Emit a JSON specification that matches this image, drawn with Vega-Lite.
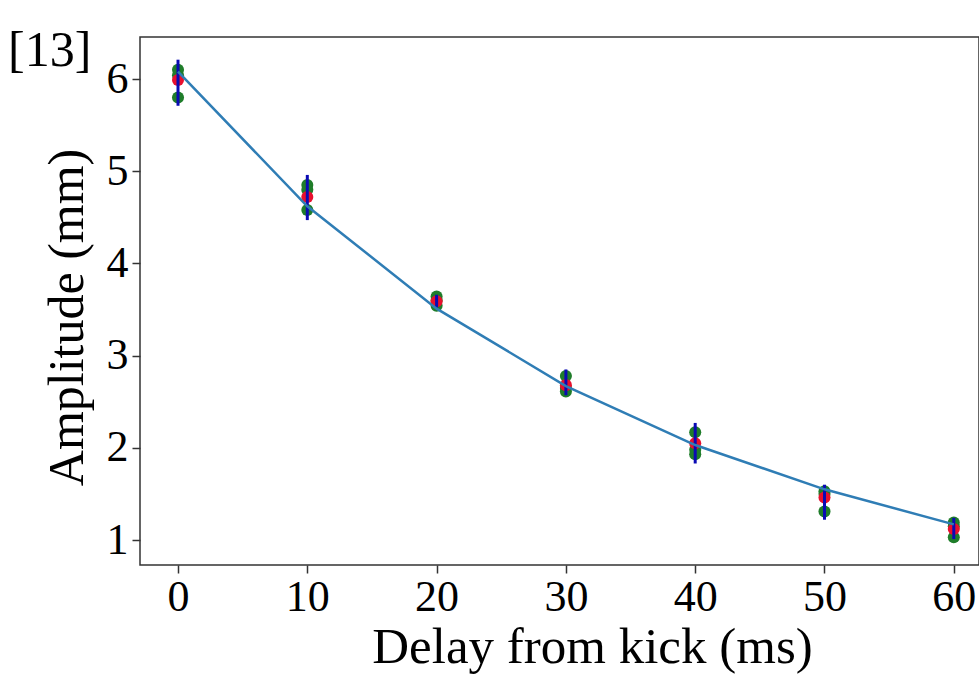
{
  "$schema": "https://vega.github.io/schema/vega-lite/v6.json",
  "autosize": "none",
  "padding": {"left": 140, "top": 37, "right": 0, "bottom": 111},
  "width": 839,
  "height": 528,
  "background": "white",
  "config": {
    "view": {"stroke": "#333333", "strokeWidth": 1.5},
    "font": "Liberation Serif"
  },
  "title": {
    "text": "[13]",
    "anchor": "start",
    "frame": "group",
    "orient": "top",
    "baseline": "top",
    "offset": 0,
    "dx": -132,
    "dy": 39,
    "font": "Liberation Serif",
    "fontSize": 50,
    "fontWeight": "normal",
    "color": "black"
  },
  "datasets": {
    "runs": [
      {"t": 0, "amp": 6.10}, {"t": 0, "amp": 6.04}, {"t": 0, "amp": 5.80},
      {"t": 10, "amp": 4.85}, {"t": 10, "amp": 4.80}, {"t": 10, "amp": 4.58},
      {"t": 20, "amp": 3.64}, {"t": 20, "amp": 3.60}, {"t": 20, "amp": 3.54},
      {"t": 30, "amp": 2.78}, {"t": 30, "amp": 2.65}, {"t": 30, "amp": 2.61},
      {"t": 40, "amp": 2.17}, {"t": 40, "amp": 1.98}, {"t": 40, "amp": 1.93},
      {"t": 50, "amp": 1.53}, {"t": 50, "amp": 1.50}, {"t": 50, "amp": 1.31},
      {"t": 60, "amp": 1.19}, {"t": 60, "amp": 1.15}, {"t": 60, "amp": 1.03}
    ],
    "means": [
      {"t": 0, "mean": 5.99, "lo": 5.71, "hi": 6.21},
      {"t": 10, "mean": 4.72, "lo": 4.47, "hi": 4.96},
      {"t": 20, "mean": 3.59, "lo": 3.52, "hi": 3.66},
      {"t": 30, "mean": 2.68, "lo": 2.57, "hi": 2.85},
      {"t": 40, "mean": 2.05, "lo": 1.83, "hi": 2.27},
      {"t": 50, "mean": 1.46, "lo": 1.22, "hi": 1.60},
      {"t": 60, "mean": 1.12, "lo": 1.01, "hi": 1.24}
    ],
    "fit": [
      {"t": 0, "fit": 6.08},
      {"t": 10, "fit": 4.62},
      {"t": 20, "fit": 3.51},
      {"t": 30, "fit": 2.67},
      {"t": 40, "fit": 2.03},
      {"t": 50, "fit": 1.55},
      {"t": 60, "fit": 1.17}
    ]
  },
  "encoding": {
    "x": {
      "field": "t",
      "type": "quantitative",
      "scale": {"domain": [-2.94, 61.95], "nice": false, "zero": false},
      "axis": {
        "title": "Delay from kick (ms)",
        "values": [0, 10, 20, 30, 40, 50, 60],
        "grid": false,
        "domain": false,
        "tickColor": "#333333",
        "tickSize": 8,
        "tickWidth": 1.5,
        "labelFont": "Liberation Serif",
        "labelFontSize": 44,
        "labelColor": "black",
        "labelPadding": 2,
        "labelFlush": false,
        "titleFont": "Liberation Serif",
        "titleFontSize": 51,
        "titleFontWeight": "normal",
        "titleColor": "black",
        "titlePadding": 3,
        "titleX": 452
      }
    }
  },
  "layer": [
    {
      "data": {"name": "runs"},
      "mark": {"type": "circle", "size": 145, "color": "#1f7d2a", "opacity": 1},
      "encoding": {
        "y": {
          "field": "amp",
          "type": "quantitative",
          "scale": {"domain": [0.729, 6.456], "nice": false, "zero": false},
          "axis": {
            "title": "Amplitude (mm)",
            "values": [1, 2, 3, 4, 5, 6],
            "format": "d",
            "grid": false,
            "domain": false,
            "tickColor": "#333333",
            "tickSize": 8,
            "tickWidth": 1.5,
            "labelFont": "Liberation Serif",
            "labelFontSize": 44,
            "labelColor": "black",
            "labelPadding": 4,
            "labelFlush": false,
            "titleFont": "Liberation Serif",
            "titleFontSize": 50,
            "titleFontWeight": "normal",
            "titleColor": "black",
            "titlePadding": 14,
            "titleY": 280
          }
        }
      }
    },
    {
      "data": {"name": "means"},
      "mark": {"type": "circle", "size": 145, "color": "#e8102e", "opacity": 1},
      "encoding": {"y": {"field": "mean", "type": "quantitative"}}
    },
    {
      "data": {"name": "means"},
      "mark": {"type": "rule", "color": "#0a0ab4", "strokeWidth": 3},
      "encoding": {
        "y": {"field": "lo", "type": "quantitative"},
        "y2": {"field": "hi"}
      }
    },
    {
      "data": {"name": "fit"},
      "mark": {"type": "line", "color": "#2f7db5", "strokeWidth": 2.5},
      "encoding": {"y": {"field": "fit", "type": "quantitative"}}
    }
  ]
}
